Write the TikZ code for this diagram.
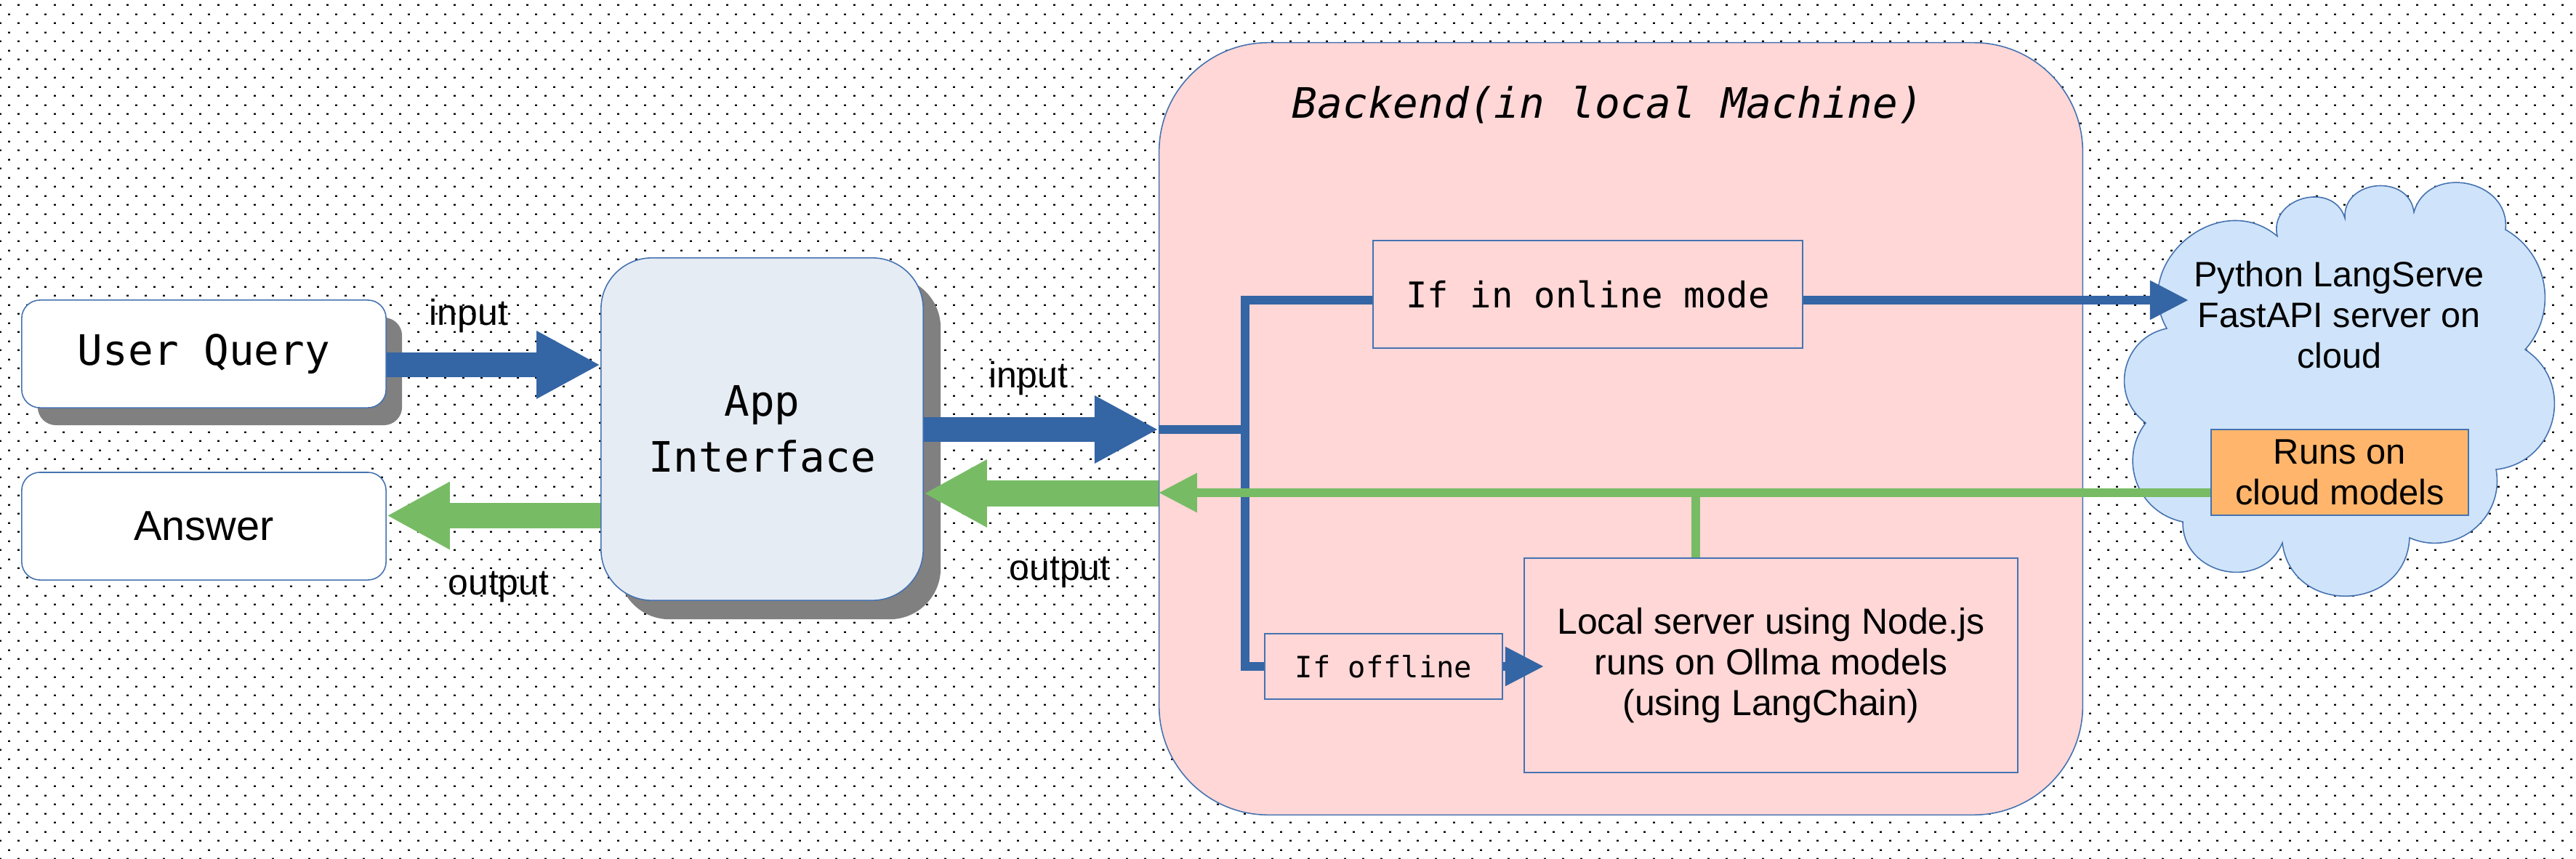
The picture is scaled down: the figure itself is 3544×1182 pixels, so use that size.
\documentclass[tikz,border=0pt]{standalone}
\usepackage{fontspec}
\setmainfont{Liberation Sans}
\newfontfamily\monof{DejaVu Sans Mono}
\usetikzlibrary{arrows.meta,shadows,patterns}
\definecolor{bluec}{RGB}{52,101,164}
\definecolor{greenc}{RGB}{119,188,101}
\definecolor{linec}{RGB}{69,114,176}
\definecolor{appfill}{RGB}{230,236,244}
\definecolor{pinkfill}{RGB}{255,215,215}
\definecolor{cloudfill}{RGB}{207,228,250}
\definecolor{orangefill}{RGB}{255,182,108}
\definecolor{shadowc}{RGB}{128,128,128}
\pgfdeclarepatternformonly{bgdots}{\pgfpointorigin}{\pgfqpoint{7.1132pt}{7.1132pt}}{\pgfqpoint{7.1132pt}{7.1132pt}}{%
  \pgfpathrectangle{\pgfqpoint{0pt}{0pt}}{\pgfqpoint{0.85pt}{0.7pt}}%
  \pgfpathrectangle{\pgfqpoint{3.5566pt}{3.5566pt}}{\pgfqpoint{0.85pt}{0.7pt}}%
  \pgfusepath{fill}}
\begin{document}
\begin{tikzpicture}[x=0.01cm,y=-0.01cm,
  box/.style={draw=linec, line width=0.45pt, inner sep=0pt, align=center},
  monobig/.style={font=\monof\fontsize{16.4}{21.9}\selectfont},
  sanslbl/.style={font=\fontsize{14.2}{15.9}\selectfont, inner sep=0pt},
  shadowA/.style={general shadow={fill=shadowc, shadow xshift=0.22cm, shadow yshift=-0.24cm}},
  shadowB/.style={general shadow={fill=shadowc, shadow xshift=0.24cm, shadow yshift=-0.26cm}},
  bigblue/.style={draw=bluec, line width=0.345cm, -{Triangle[length=0.88cm,width=0.87cm]}},
  biggreen/.style={draw=greenc, line width=0.35cm, -{Triangle[length=0.87cm,width=0.87cm]}},
  thinblue/.style={draw=bluec, line width=0.115cm},
  thingreen/.style={draw=greenc, line width=0.12cm},
  smalltip/.style={-{Triangle[length=0.53cm,width=0.51cm]}},
  puff/.style 2 args={bend left=#1, looseness=#2}]
\fill[white] (0,0) rectangle (3544,1182);
\fill[pattern=bgdots, pattern color=black] (0,0) rectangle (3544,1182);
\useasboundingbox (0,0) rectangle (3544,1182);

% containers
\node[box, fill=pinkfill, rounded corners=1.5cm, minimum width=12.7cm, minimum height=10.62cm] (backend) at (2230,590) {};
\node[font=\monof\itshape\fontsize{16.4}{21.9}\selectfont, anchor=base, inner sep=0pt] (title) at (2212,163) {Backend(in local Machine)};

% cloud outline
\draw[draw=linec, line width=0.45pt, fill=cloudfill]
  (2952,582) to[puff={66}{1.21}] (2981,452) to[puff={80}{1.35}] (3133,325)
  to[puff={88}{1.45}] (3226,300) to[puff={88}{1.45}] (3321,292) to[puff={85}{1.4}] (3447,316)
  to[puff={51}{1.05}] (3474,481) to[puff={70}{1.27}] (3434,646) to[puff={62}{1.16}] (3315,740)
  to[puff={85}{1.5}] (3140,747) to[puff={79}{1.35}] (3003,718) to[puff={58}{1.12}] (2952,582) -- cycle;

% nodes
\node[box, monobig, fill=white, rounded corners=0.25cm, shadowA, minimum width=5.01cm, minimum height=1.48cm] (uq) at (280.5,487) {User Query};
\node[box, fill=white, rounded corners=0.25cm, minimum width=5.01cm, minimum height=1.48cm, font=\fontsize{16.4}{20}\selectfont] (ans) at (280.5,724) {Answer};
\node[box, monobig, fill=appfill, rounded corners=0.7cm, shadowB, minimum width=4.43cm, minimum height=4.71cm] (app) at (1048.5,590.5) {App\\Interface};
\node[box, font=\monof\fontsize{13.9}{16}\selectfont, minimum width=5.91cm, minimum height=1.48cm] (online) at (2184.5,405) {If in online mode};
\node[box, font=\monof\fontsize{11.5}{14}\selectfont, minimum width=3.27cm, minimum height=0.9cm] (offline) at (1903.5,917) {If offline};
\node[box, font=\fontsize{14.2}{15.9}\selectfont, minimum width=6.79cm, minimum height=2.95cm] (local) at (2436.5,915.5) {Local server using Node.js\\runs on Ollma models\\(using LangChain)};
\node[align=center, inner sep=0pt, font=\fontsize{13.8}{15.9}\selectfont] (cloudtxt) at (3218,433) {Python LangServe\\FastAPI server on\\cloud};
\node[box, fill=orangefill, font=\fontsize{13.9}{15.9}\selectfont, minimum width=3.54cm, minimum height=1.18cm] (orange) at (3219,650) {Runs on\\cloud models};

% labels
\node[sanslbl, anchor=base] (in1) at (645,447) {input};
\node[sanslbl, anchor=base] (out1) at (686,818) {output};
\node[sanslbl, anchor=base] (in2) at (1415,533) {input};
\node[sanslbl, anchor=base] (out2) at (1458,798) {output};

% coordinates
\coordinate (bus) at (1713,591);
\coordinate (gj) at (2333,678);
\coordinate (cloudin) at (3011,413);
\coordinate (localin) at (2124,917);

% big block arrows
\draw[bigblue] (uq.east |- 0,502) -- (app.west |- 0,502);
\draw[biggreen] (app.west |- 0,709.5) -- (ans.east |- 0,709.5);
\draw[bigblue] (app.east |- 0,591) -- (backend.west |- 0,591);
\draw[biggreen] (backend.west |- 0,679) -- (app.east |- 0,679);

% backend internals
\draw[thinblue] (backend.west |- bus) -- (bus);
\draw[thinblue] (online.west |- 0,413) -| (bus) |- (offline.west);
\draw[thinblue, smalltip] (online.east |- 0,413) -- (cloudin);
\draw[thinblue, smalltip] (offline.east) -- (localin);
\draw[thingreen, smalltip] (orange.west |- gj) -- (backend.west |- gj);
\draw[thingreen] (gj) -- (gj |- local.north);
\end{tikzpicture}
\end{document}
